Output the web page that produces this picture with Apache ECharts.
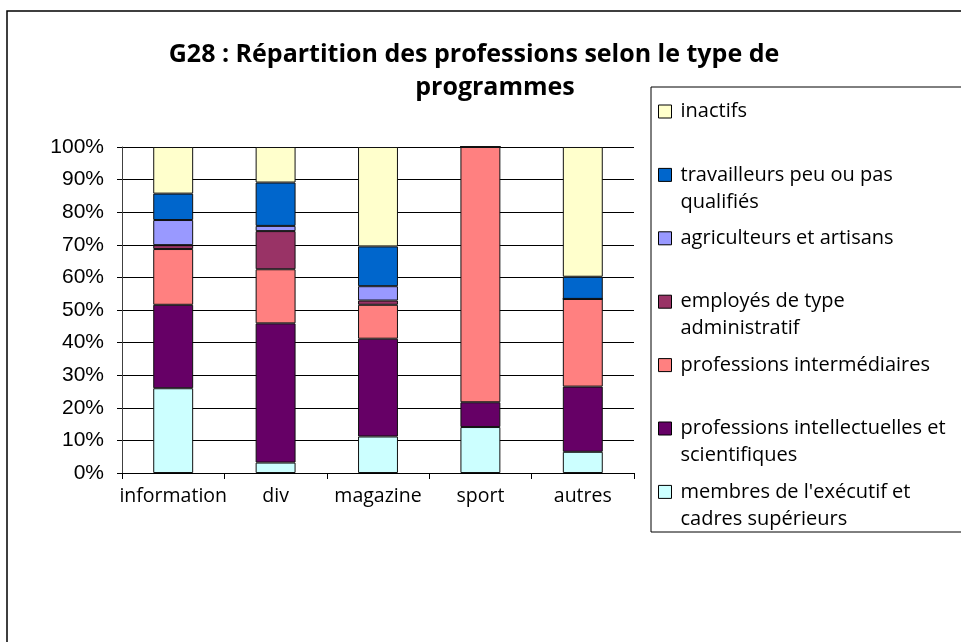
<!DOCTYPE html>
<html>
<head>
<meta charset="utf-8">
<title>G28</title>
<script src="https://cdn.jsdelivr.net/npm/echarts@6/dist/echarts.min.js"></script>
<style>
    html, body { margin: 0; padding: 0; background: #fff; }
    #main { width: 961px; height: 642px; }
</style>
</head>
<body>
<div id="main"></div>
<script>
// categories (programme types)
const categories = ['information', 'div', 'magazine', 'sport', 'autres'];
const yTicks = [0, 10, 20, 30, 40, 50, 60, 70, 80, 90, 100];

// shares in % per programme type (bottom to top)
const membres = [26.0, 3.2, 11.2, 14.1, 6.5];
const intellectuelles = [25.6, 42.7, 30.0, 7.6, 20.0];
const intermediaires = [17.1, 16.6, 10.4, 78.3, 26.9];
const employes = [1.2, 11.7, 1.3, 0, 0];
const agriculteurs = [7.7, 1.6, 4.4, 0, 0];
const travailleurs = [8.1, 13.3, 12.2, 0, 6.8];
const inactifs = [14.3, 10.9, 30.5, 0, 39.8];

const seriesNames = [
    "membres de l'exécutif et cadres supérieurs",
    'professions intellectuelles et scientifiques',
    'professions intermédiaires',
    'employés de type administratif',
    'agriculteurs et artisans',
    'travailleurs peu ou pas qualifiés',
    'inactifs'
];
const seriesData = [membres, intellectuelles, intermediaires, employes, agriculteurs, travailleurs, inactifs];
const seriesColors = ['#CCFFFF', '#660066', '#FF8080', '#993366', '#9999FF', '#0066CC', '#FFFFCC'];

// how the legend wraps each name
const legendLines = {
    "membres de l'exécutif et cadres supérieurs": "membres de l'exécutif et\ncadres supérieurs",
    'professions intellectuelles et scientifiques': 'professions intellectuelles et\nscientifiques',
    'professions intermédiaires': 'professions intermédiaires',
    'employés de type administratif': 'employés de type\nadministratif',
    'agriculteurs et artisans': 'agriculteurs et artisans',
    'travailleurs peu ou pas qualifiés': 'travailleurs peu ou pas\nqualifiés',
    'inactifs': 'inactifs'
};

document.addEventListener('DOMContentLoaded', init);

function init() {
    drawChart();
}

function drawChart() {
    let myChart = echarts.init(document.getElementById('main'), null, { renderer: 'canvas' });

    const series = seriesNames.map((name, i) => ({
        name: name,
        type: 'bar',
        stack: 'total',
        barWidth: '39%',
        data: seriesData[i],
        itemStyle: {
            color: seriesColors[i],
            borderColor: '#111',
            borderWidth: 1
        }
    }));

    const titleFont = { fontFamily: 'Open Sans', fontWeight: 'bold', fontSize: 25, color: '#000', lineHeight: 33 };

    let option = {
        animation: false,
        title: [
            {
                text: 'G28 : Répartition des professions selon le type de',
                left: 474,
                top: 38,
                textAlign: 'center',
                padding: 0,
                textStyle: titleFont
            },
            {
                text: 'programmes',
                left: 495,
                top: 71,
                textAlign: 'center',
                padding: 0,
                textStyle: titleFont
            }
        ],
        graphic: [
            {
                type: 'rect',
                shape: { x: 7, y: 11, width: 1000, height: 700 },
                style: { fill: 'none', stroke: '#000', lineWidth: 1.5 },
                silent: true,
                z: -1
            },
            {
                type: 'rect',
                shape: { x: 651, y: 87, width: 400, height: 445 },
                style: { fill: '#fff', stroke: '#000', lineWidth: 1 },
                silent: true,
                z: 0
            }
        ],
        legend: {
            data: seriesNames.slice().reverse(),
            orient: 'vertical',
            left: 658,
            top: 71,
            padding: 0,
            itemGap: -17.6,
            itemWidth: 13,
            itemHeight: 13,
            icon: 'rect',
            z: 5,
            itemStyle: { borderColor: '#000', borderWidth: 1 },
            formatter: function (name) {
                const lines = legendLines[name];
                return '\n' + lines + (lines.indexOf('\n') < 0 ? '\n' : '');
            },
            textStyle: {
                fontFamily: 'Open Sans',
                fontSize: 20,
                lineHeight: 27,
                color: '#000',
                padding: [0, 0, 0, 4]
            }
        },
        grid: {
            left: 122,
            right: 327,
            top: 147,
            bottom: 169
        },
        xAxis: {
            type: 'category',
            data: categories,
            axisLine: { lineStyle: { color: '#000', width: 1 } },
            axisTick: { show: true, length: 6, lineStyle: { color: '#000' } },
            axisLabel: {
                interval: 0,
                hideOverlap: false,
                margin: 13,
                fontFamily: 'Open Sans',
                fontSize: 19.5,
                color: '#000'
            },
            splitLine: { show: false }
        },
        yAxis: {
            type: 'value',
            min: yTicks[0],
            max: yTicks[yTicks.length - 1],
            interval: 10,
            axisLine: { show: true, lineStyle: { color: '#404040', width: 1 } },
            axisTick: { show: true, length: 5, lineStyle: { color: '#000' } },
            axisLabel: {
                margin: 18,
                fontFamily: 'Liberation Sans',
                fontSize: 21,
                color: '#000',
                formatter: '{value}%'
            },
            splitLine: { show: true, lineStyle: { color: '#000', width: 1 } }
        },
        series: series
    };

    myChart.setOption(option);
}
</script>
</body>
</html>
